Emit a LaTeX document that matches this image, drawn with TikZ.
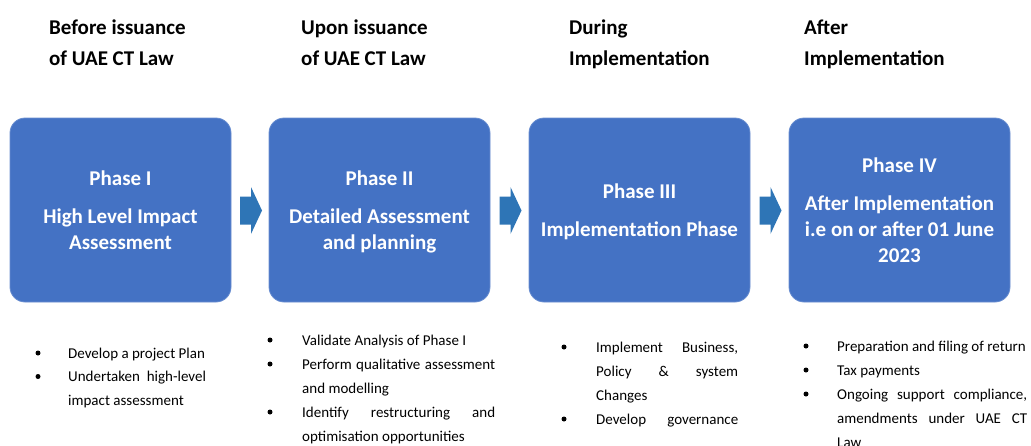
\documentclass[tikz,border=0pt]{standalone}
\usepackage{fontspec}
\setmainfont{Carlito}
\usetikzlibrary{calc}
\definecolor{boxblue}{HTML}{4472C4}
\definecolor{arrowblue}{HTML}{2E75B6}
\tikzset{
  phasebox/.style={fill=boxblue, draw=boxblue!80!white, line width=0.8pt, rounded corners=15pt,
    minimum width=221pt, minimum height=184pt, inner sep=0pt, text=white, align=center,
    font=\fontsize{21}{26}\selectfont\bfseries},
  header/.style={anchor=base west, inner sep=0pt, font=\fontsize{21}{31}\selectfont\bfseries, align=left},
  itemtext/.style={anchor=base west, inner sep=0pt, font=\fontsize{15}{18}\selectfont},
  bulletdot/.style={circle, fill=black, inner sep=0pt, minimum size=5pt},
  blockarrow/.style={fill=arrowblue},
}
\newcommand{\sline}[2]{\makebox[#1pt][s]{#2}}
\begin{document}
\begin{tikzpicture}[x=1pt,y=-1pt]
\useasboundingbox (0,0) rectangle (1031,445);
\clip (0,0) rectangle (1031,445);

% headers
\node[header] (h1a) at (49,34) {Before issuance};
\node[header] (h1b) at (49,65) {of UAE CT Law};
\node[header] (h2a) at (301,34) {Upon issuance};
\node[header] (h2b) at (301,65) {of UAE CT Law};
\node[header] (h3a) at (569,34) {During};
\node[header] (h3b) at (569,65) {Implementation};
\node[header] (h4a) at (804,34) {After};
\node[header] (h4b) at (804,65) {Implementation};

% boxes
\node[phasebox] (b1) at (120.5,210) {Phase I\\[12pt]High Level Impact\\Assessment};
\node[phasebox] (b2) at (379.5,210) {Phase II\\[12pt]Detailed Assessment\\\smash{and planning}};
\node[phasebox] (b3) at (639.5,210) {Phase III\\[12pt]\smash{Implementation Phase}};
\node[phasebox] (b4) at (899.5,210) {Phase IV\\[12pt]After Implementation\\i.e on or after 01 June\\2023};

% arrows
\foreach \a/\b/\n in {b1/b2/m1, b2/b3/m2, b3/b4/m3}{
  \coordinate (\n) at ($(\a.east)!0.5!(\b.west)+(1,0.5)$);
  \fill[blockarrow] ([shift={(-11,-14)}]\n) -- ([shift={(0,-14)}]\n) -- ([shift={(0,-23.5)}]\n)
     -- ([shift={(11,0)}]\n) -- ([shift={(0,23.5)}]\n) -- ([shift={(0,14)}]\n) -- ([shift={(-11,14)}]\n) -- cycle;
}

% column 1
\node[bulletdot] (d11) at (38,353) {};
\node[itemtext] (t11) at (68,358) {Develop a project Plan};
\node[bulletdot] (d12) at (38,376.5) {};
\node[itemtext] (t12) at (68,381.5) {Undertaken\ \ high-level};
\node[itemtext] (t13) at (68,405) {impact assessment};

% column 2
\node[bulletdot] (d21) at (270,340) {};
\node[itemtext] (t21) at (302,345) {Validate Analysis of Phase I};
\node[bulletdot] (d22) at (270,364) {};
\node[itemtext] (t22) at (302,369) {\sline{193}{Perform qualitative assessment}};
\node[itemtext] (t23) at (302,393) {and modelling};
\node[bulletdot] (d24) at (270,412) {};
\node[itemtext] (t24) at (302,417) {\sline{193}{Identify restructuring and}};
\node[itemtext] (t25) at (302,441) {optimisation opportunities};

% column 3
\node[bulletdot] (d31) at (564,347) {};
\node[itemtext] (t31) at (596,352) {\sline{142}{Implement Business,}};
\node[itemtext] (t32) at (596,376) {\sline{142}{Policy \& system}};
\node[itemtext] (t33) at (596,400) {Changes};
\node[bulletdot] (d34) at (564,419) {};
\node[itemtext] (t34) at (596,424) {\sline{142}{Develop governance}};

% column 4
\node[bulletdot] (d41) at (806,346) {};
\node[itemtext] (t41) at (837,351) {Preparation and filing of return};
\node[bulletdot] (d42) at (806,370) {};
\node[itemtext] (t42) at (837,375) {Tax payments};
\node[bulletdot] (d43) at (806,394) {};
\node[itemtext] (t43) at (837,399) {\sline{190}{Ongoing support compliance,}};
\node[itemtext] (t44) at (837,423) {\sline{190}{amendments under UAE CT}};
\node[itemtext] (t45) at (837,447) {Law};
\end{tikzpicture}
\end{document}
